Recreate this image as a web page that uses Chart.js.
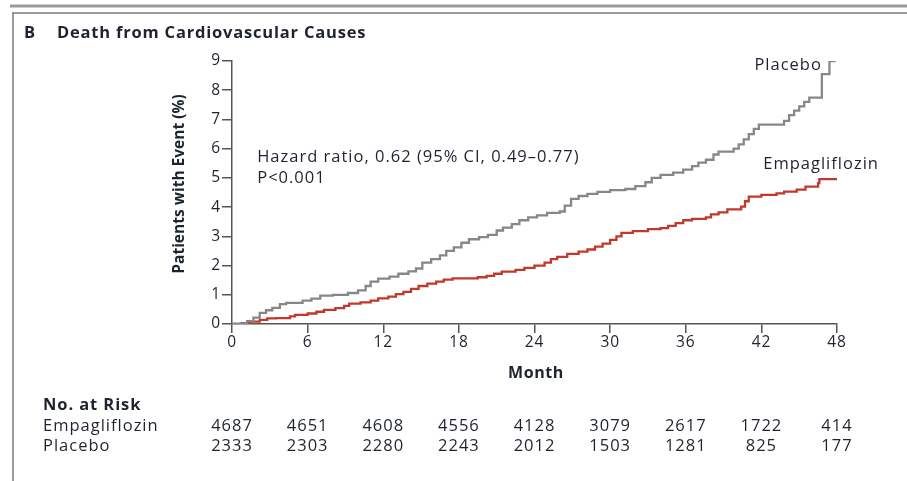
<!DOCTYPE html>
<html>
<head>
<meta charset="utf-8">
<script src="https://cdn.jsdelivr.net/npm/chart.js@4.4.1/dist/chart.umd.min.js"></script>
<style>
  html, body { margin: 0; padding: 0; background: #fff; }
  #wrap { width: 907px; height: 481px; position: relative; }
</style>
</head>
<body>
<div id="wrap"><canvas id="c" width="907" height="481"></canvas></div>
<script>
// ---- Data ----
const placeboMonths = [0, 0.7, 1.2, 1.7, 2.2, 2.7, 3.2, 3.8, 4.3, 5.6, 6.3, 7.0, 8.0, 9.2, 10.0, 10.6, 11.0, 11.6, 12.5, 13.2, 14.0, 14.6, 15.1, 15.8, 16.5, 17.0, 17.6, 18.2, 18.8, 19.6, 20.3, 21.0, 21.5, 22.2, 22.8, 23.5, 24.2, 25.0, 26.0, 26.4, 26.9, 27.5, 28.2, 29.0, 30.0, 31.2, 32.0, 32.8, 33.3, 34.0, 35.0, 35.8, 36.5, 37.0, 37.6, 38.2, 38.6, 39.8, 40.2, 40.6, 41.0, 41.4, 41.8, 43.8, 44.2, 44.6, 45.0, 45.4, 45.8, 46.8, 47.4, 47.9];
const placeboPct    = [0, 0.02, 0.1, 0.22, 0.38, 0.47, 0.55, 0.68, 0.72, 0.8, 0.87, 0.97, 1.0, 1.06, 1.15, 1.3, 1.45, 1.55, 1.62, 1.72, 1.8, 1.9, 2.1, 2.22, 2.35, 2.5, 2.62, 2.78, 2.9, 2.97, 3.05, 3.2, 3.3, 3.42, 3.55, 3.65, 3.72, 3.8, 3.85, 4.05, 4.28, 4.38, 4.45, 4.52, 4.58, 4.62, 4.72, 4.85, 5.0, 5.1, 5.18, 5.28, 5.4, 5.52, 5.62, 5.8, 5.9, 6.0, 6.15, 6.32, 6.5, 6.68, 6.82, 6.95, 7.15, 7.3, 7.45, 7.6, 7.75, 8.55, 9.0, 9.0];

const empaMonths = [0, 0.8, 1.5, 2.2, 2.8, 3.5, 4.6, 5.0, 6.0, 6.7, 7.3, 8.2, 8.9, 9.3, 10.2, 11.0, 11.6, 12.4, 13.0, 13.6, 14.2, 14.8, 15.5, 16.2, 16.8, 17.5, 19.5, 20.2, 20.8, 21.4, 22.5, 23.2, 24.0, 24.8, 25.3, 25.8, 26.6, 27.5, 28.2, 28.8, 29.4, 30.0, 30.5, 30.9, 31.8, 33.0, 34.0, 34.6, 35.2, 35.8, 36.5, 37.6, 38.0, 38.6, 39.3, 40.4, 40.7, 41.0, 42.0, 43.2, 43.8, 44.8, 45.5, 46.5, 46.6, 48.0];
const empaPct    = [0, 0.03, 0.08, 0.14, 0.19, 0.2, 0.26, 0.31, 0.36, 0.42, 0.48, 0.54, 0.62, 0.7, 0.74, 0.8, 0.88, 0.94, 1.02, 1.1, 1.2, 1.3, 1.38, 1.45, 1.52, 1.56, 1.6, 1.65, 1.72, 1.79, 1.85, 1.92, 2.0, 2.1, 2.22, 2.3, 2.4, 2.48, 2.55, 2.65, 2.75, 2.88, 3.0, 3.12, 3.18, 3.25, 3.28, 3.36, 3.45, 3.55, 3.6, 3.65, 3.75, 3.82, 3.92, 4.02, 4.2, 4.36, 4.42, 4.47, 4.53, 4.6, 4.7, 4.82, 4.96, 4.96];

const riskMonths  = [0, 6, 12, 18, 24, 30, 36, 42, 48];
const riskEmpa    = [4687, 4651, 4608, 4556, 4128, 3079, 2617, 1722, 414];
const riskPlacebo = [2333, 2303, 2280, 2243, 2012, 1503, 1281, 825, 177];

const seriesNames = ["Placebo", "Empagliflozin"];
const titleLetter = "B";
const titleText = "Death from Cardiovascular Causes";
const yTitle = "Patients with Event (%)";
const xTitle = "Month";
const riskHeader = "No. at Risk";
const hrLines = ["Hazard ratio, 0.62 (95% CI, 0.49\u20130.77)", "P<0.001"];

// ---- Style ----
const FONT = "'Open Sans', 'DejaVu Sans', sans-serif";
const TEXT = "#1e2330";
const AXIS = "#555555";
const GRAY = "#878787";
const RED  = "#c0392b";

const toXY = (xs, ys) => xs.map((x, i) => ({ x: x, y: ys[i] }));

const decor = {
  id: 'decor',
  beforeDraw(chart) {
    chart.ctx.letterSpacing = '0.8px';
  },
  afterDraw(chart) {
    const ctx = chart.ctx;
    const xs = chart.scales.x, ys = chart.scales.y;
    ctx.save();
    ctx.letterSpacing = '0px';
    // frame
    ctx.strokeStyle = "#9a9a9a"; ctx.lineWidth = 3;
    ctx.beginPath(); ctx.moveTo(10, 6); ctx.lineTo(907, 6); ctx.stroke();
    ctx.strokeStyle = "#7a7a7a"; ctx.lineWidth = 1.5;
    ctx.beginPath(); ctx.moveTo(12, 13); ctx.lineTo(907, 13); ctx.stroke();
    ctx.beginPath(); ctx.moveTo(13, 13); ctx.lineTo(13, 481); ctx.stroke();

    ctx.fillStyle = TEXT;
    ctx.textBaseline = 'middle';
    // title
    ctx.textAlign = 'left';
    ctx.letterSpacing = '0.8px';
    ctx.font = "bold 16.5px " + FONT;
    ctx.fillText(titleLetter, 24, 33);
    ctx.fillText(titleText, 57, 33);

    // axis titles
    ctx.letterSpacing = '0.6px';
    ctx.font = "bold 16px " + FONT;
    ctx.textAlign = 'center';
    ctx.fillText(xTitle, 536, 373);
    ctx.save();
    ctx.translate(180, 184);
    ctx.rotate(-Math.PI / 2);
    ctx.letterSpacing = '0px';
    ctx.font = "bold 15.5px " + FONT;
    ctx.fillText(yTitle, 0, 0);
    ctx.restore();

    // hazard ratio
    ctx.letterSpacing = '1px';
    ctx.font = "16.5px " + FONT;
    ctx.textAlign = 'left';
    ctx.fillText(hrLines[0], xs.getPixelForValue(2.0), ys.getPixelForValue(5.7));
    ctx.fillText(hrLines[1], xs.getPixelForValue(2.0), ys.getPixelForValue(5.0));

    // series labels
    ctx.textAlign = 'right';
    ctx.fillText(seriesNames[0], xs.getPixelForValue(46.8), ys.getPixelForValue(8.86));
    ctx.textAlign = 'left';
    ctx.fillText(seriesNames[1], xs.getPixelForValue(42.15), ys.getPixelForValue(5.45));

    // risk table
    ctx.textAlign = 'left';
    ctx.letterSpacing = '0.9px';
    ctx.font = "bold 16.5px " + FONT;
    ctx.fillText(riskHeader, 43, 405);
    ctx.letterSpacing = '1px';
    ctx.font = "16.5px " + FONT;
    ctx.fillText(seriesNames[1], 43, 426);
    ctx.fillText(seriesNames[0], 43, 446);
    ctx.textAlign = 'center';
    riskMonths.forEach((m, i) => {
      const px = xs.getPixelForValue(m);
      ctx.fillText(String(riskEmpa[i]), px, 426);
      ctx.fillText(String(riskPlacebo[i]), px, 446);
    });
    ctx.restore();
  }
};

new Chart(document.getElementById('c'), {
  type: 'line',
  data: {
    datasets: [
      { label: seriesNames[0], data: toXY(placeboMonths, placeboPct), borderColor: GRAY, borderWidth: 2.3, stepped: true, pointRadius: 0, fill: false },
      { label: seriesNames[1], data: toXY(empaMonths, empaPct), borderColor: RED, borderWidth: 2.3, stepped: true, pointRadius: 0, fill: false }
    ]
  },
  options: {
    responsive: false,
    animation: false,
    layout: { padding: { left: 160, right: 70, top: 61, bottom: 97 } },
    plugins: { legend: { display: false }, tooltip: { enabled: false } },
    scales: {
      x: {
        type: 'linear', min: 0, max: 48,
        ticks: { stepSize: 6, color: TEXT, font: { family: FONT, size: 15.5 }, padding: 0, maxRotation: 0 },
        grid: { drawOnChartArea: false, drawTicks: true, tickLength: 9, color: AXIS, lineWidth: 1.5 },
        border: { display: true, color: AXIS, width: 1.5 },
        title: { display: false },
        afterFit(s) { s.height = 60; }
      },
      y: {
        min: 0, max: 9,
        ticks: { stepSize: 1, color: TEXT, font: { family: FONT, size: 15.5 }, padding: 1 },
        grid: { drawOnChartArea: false, drawTicks: true, tickLength: 10, color: AXIS, lineWidth: 1.5 },
        border: { display: true, color: AXIS, width: 1.5 },
        title: { display: false },
        afterFit(s) { s.width = 72; }
      }
    }
  },
  plugins: [decor]
});
</script>
</body>
</html>
